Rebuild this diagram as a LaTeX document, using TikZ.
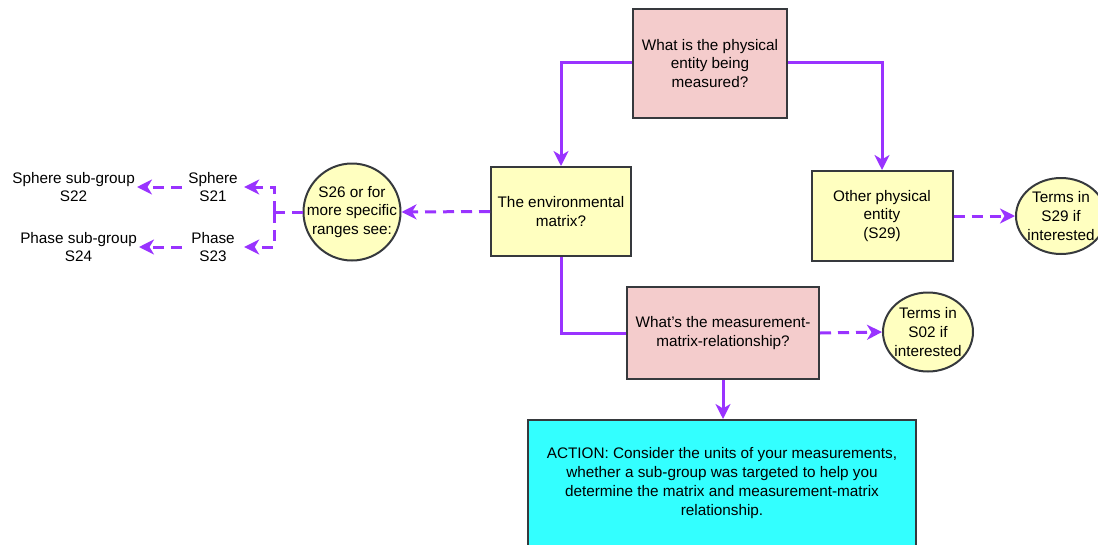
\documentclass[tikz,border=0pt]{standalone}
\usepackage{fontspec}
\setmainfont{Liberation Sans}
\usetikzlibrary{arrows.meta,shapes.geometric}
\definecolor{flow}{HTML}{9933FF}
\definecolor{edge}{HTML}{36393D}
\definecolor{qpink}{HTML}{F4CCCC}
\definecolor{qyellow}{HTML}{FFFFC0}
\definecolor{acyan}{HTML}{33FFFF}
\tikzset{
  txt/.style={font=\fontsize{15.3}{18.8}\selectfont, align=center, text=black},
  box/.style={txt, draw=edge, line width=2pt, rectangle, inner sep=0pt},
  question/.style={box, fill=qpink},
  choice/.style={box, fill=qyellow},
  actionbox/.style={box, fill=acyan},
  note/.style={draw=edge, line width=2pt, ellipse, fill=qyellow, inner sep=0pt},
  label/.style={txt, inner sep=2pt},
  link/.style={draw=flow, line width=3pt},
  tip/.style={-{Stealth[length=15pt,width=15pt,inset=4.5pt]}},
  linkarrow/.style={link, tip},
  hint/.style={link, dash pattern=on 11pt off 7pt},
  hintarrow/.style={hint, tip},
}
\begin{document}
\begin{tikzpicture}[x=1pt,y=-1pt]
\useasboundingbox (0,0) rectangle (1098,544);
\begin{scope}
\clip (0,0) rectangle (1098,544);

% decision boxes
\node[question, minimum width=154pt, minimum height=109pt] (entity) at (710,63.5)
  {What is the physical\\entity being\\measured?};
\node[choice, minimum width=140pt, minimum height=89pt] (matrix) at (561,211.5)
  {The environmental\\matrix?};
\node[choice, minimum width=141pt, minimum height=90pt] (other) at (882,216)
  {Other physical\\entity\\(S29)};
\node[question, minimum width=192pt, minimum height=92pt] (relation) at (723,333)
  {What's the measurement-\\matrix-relationship?};
\node[actionbox, minimum width=388pt, minimum height=126pt] (action) at (722,483)
  {ACTION: Consider the units of your measurements,\\whether a sub-group was targeted to help you\\determine the matrix and measurement-matrix\\relationship.};

% reference notes (outline, then its text)
\node[note, minimum width=97pt, minimum height=97pt] (ranges) at (352,212) {};
\node[txt] at (ranges.center) {S26 or for\\more specific\\ranges see:};
\node[note, minimum width=90pt, minimum height=76pt] (termsA) at (1061,216) {};
\node[txt] at (termsA.center) {Terms in\\S29 if\\interested};
\node[note, minimum width=90pt, minimum height=79pt] (termsB) at (928,332) {};
\node[txt] at (termsB.center) {Terms in\\S02 if\\interested};

% sub-group labels
\node[label, minimum width=62pt] (sphere) at (213,187) {Sphere\\S21};
\node[label, minimum width=62pt] (phase) at (213,247) {Phase\\S23};
\node[label, anchor=east] (spheresub) at (137,187) {Sphere sub-group\\S22};
\node[label, anchor=east] (phasesub) at (139,247) {Phase sub-group\\S24};
\coordinate (split) at (274,212);

% main flow
\draw[linkarrow] (entity.west |- 0,62) -| (matrix.north);
\draw[linkarrow] (entity.east |- 0,62) -| (other.north);
\draw[link] (matrix.south) |- (relation.west);
\draw[linkarrow] (relation.south) -- (relation.south |- action.north);

% dashed references
\draw[hintarrow] (matrix.west) -- (ranges.east);
\draw[hintarrow] (other.east) -- (termsA.west);
\draw[hintarrow] (relation.east) -- (termsB.west);
\draw[hint] (ranges.west) -- (split);
\draw[hintarrow] (split) |- (sphere.east);
\draw[hintarrow] (split) |- (phase.east);
\draw[hintarrow] (sphere.west) -- (spheresub.east);
\draw[hintarrow] (phase.west) -- (phasesub.east |- phase.west);
\end{scope}
\end{tikzpicture}
\end{document}
